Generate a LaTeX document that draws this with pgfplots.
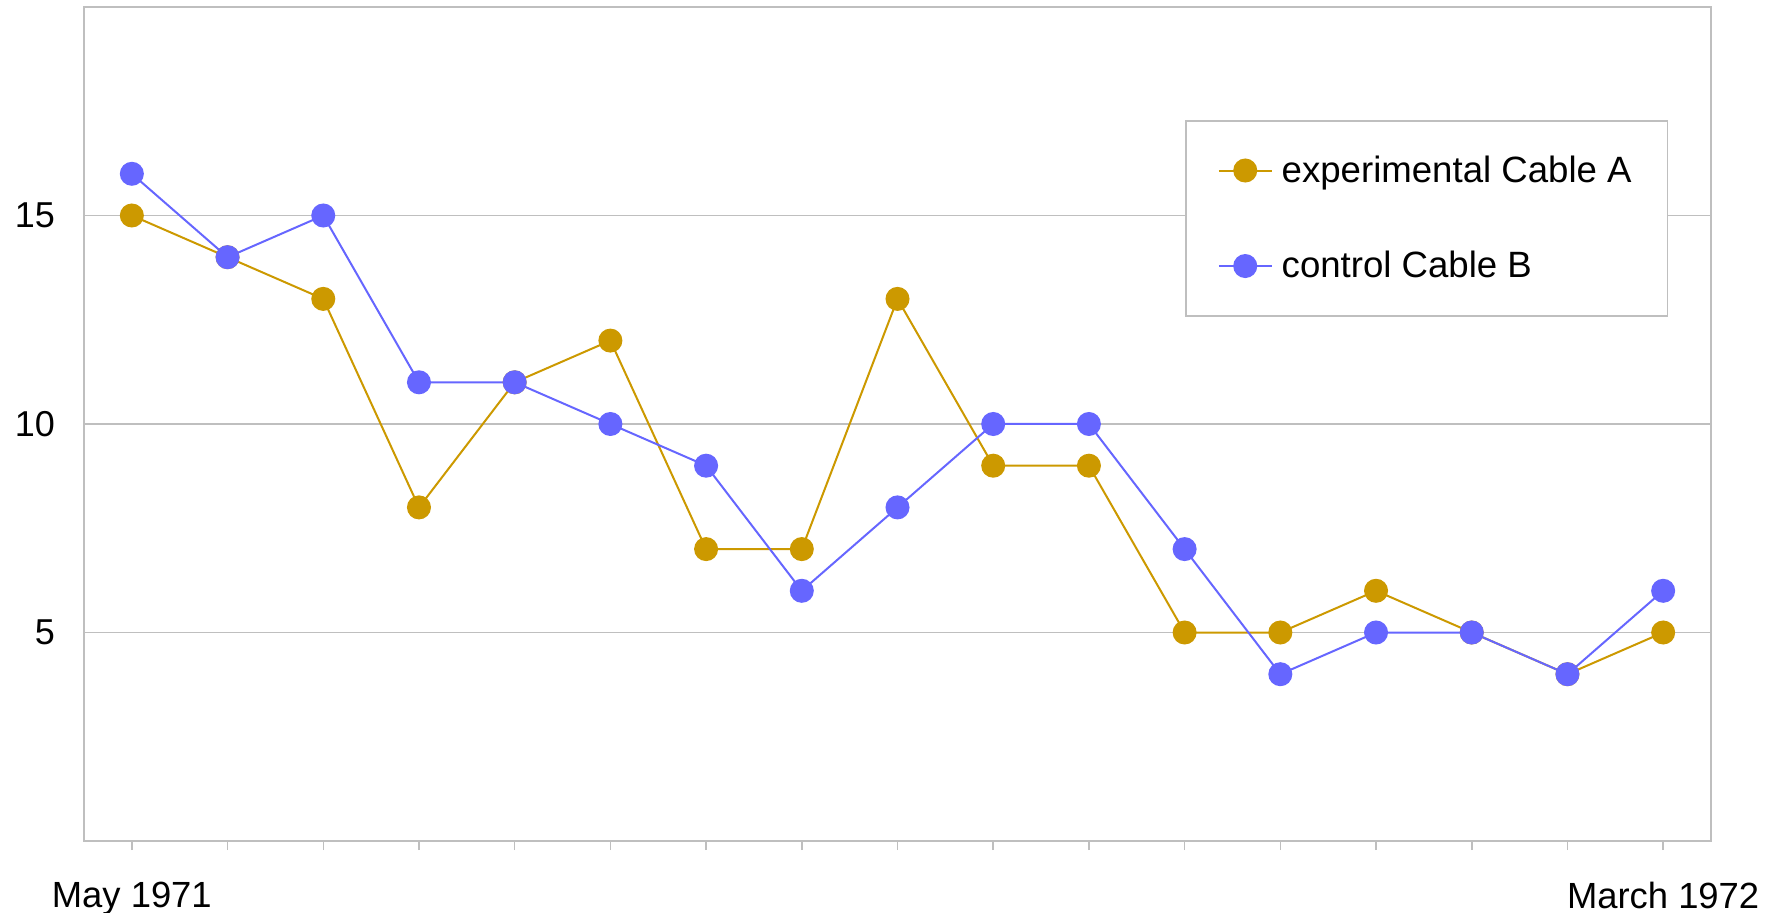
\documentclass[border=0pt]{standalone}
\usepackage{pgfplots}
\pgfplotsset{compat=1.18}
\usepackage{fontspec}
\setmainfont{Liberation Sans}
\definecolor{cgold}{HTML}{CC9900}
\definecolor{cblue}{HTML}{6666FF}
\definecolor{cgrid}{HTML}{BFBFBF}
\begin{document}
\begin{tikzpicture}
\path[use as bounding box] (0pt,0pt) rectangle (888.5pt,-456.5pt);
\begin{axis}[
  at={(42pt,-420.5pt)}, anchor=south west,
  scale only axis, width=813.5pt, height=417pt,
  xmin=-0.5, xmax=16.5, ymin=0, ymax=20,
  xtick={0,...,16},
  xticklabels={May 1971,,,,,,,,,,,,,,,,March 1972},
  ytick={5,10,15},
  xtick pos=bottom, ytick pos=left,
  ymajorgrids, major grid style={cgrid, line width=0.75pt},
  axis line style={cgrid, line width=0.75pt},
  xtick align=outside, major tick length=4.5pt,
  xtick style={cgrid, line width=0.75pt},
  ytick style={draw=none},
  /pgf/number format/assume math mode=true,
  xticklabel style={font=\fontsize{18.2}{21}\selectfont, yshift=-12.3pt},
  yticklabel style={font=\fontsize{18}{21}\selectfont, xshift=-11pt},
  legend style={at={(0.6767,0.8645)}, anchor=north west, draw=cgrid, line width=0.75pt,
    font=\fontsize{18.3}{21}\selectfont, inner xsep=16pt, inner ysep=15.5pt, row sep=29pt,
    legend cell align=left},
  legend image code/.code={
    \draw[#1] (0pt,0pt) -- (26.5pt,0pt);
    \draw[#1, mark repeat=1] plot coordinates {(13.25pt,0pt)};
    \path (29pt,0pt);
  },
]
\addplot[cgold, line width=1pt, mark=*, mark size=5.5pt, mark options={draw=cgold, fill=cgold}] coordinates {
(0,15) (1,14) (2,13) (3,8) (4,11) (5,12) (6,7) (7,7) (8,13) (9,9) (10,9) (11,5) (12,5) (13,6) (14,5) (15,4) (16,5)};
\addlegendentry{experimental Cable A}
\addplot[cblue, line width=1pt, mark=*, mark size=5.5pt, mark options={draw=cblue, fill=cblue}] coordinates {
(0,16) (1,14) (2,15) (3,11) (4,11) (5,10) (6,9) (7,6) (8,8) (9,10) (10,10) (11,7) (12,4) (13,5) (14,5) (15,4) (16,6)};
\addlegendentry{control Cable B}
\end{axis}
\end{tikzpicture}
\end{document}
